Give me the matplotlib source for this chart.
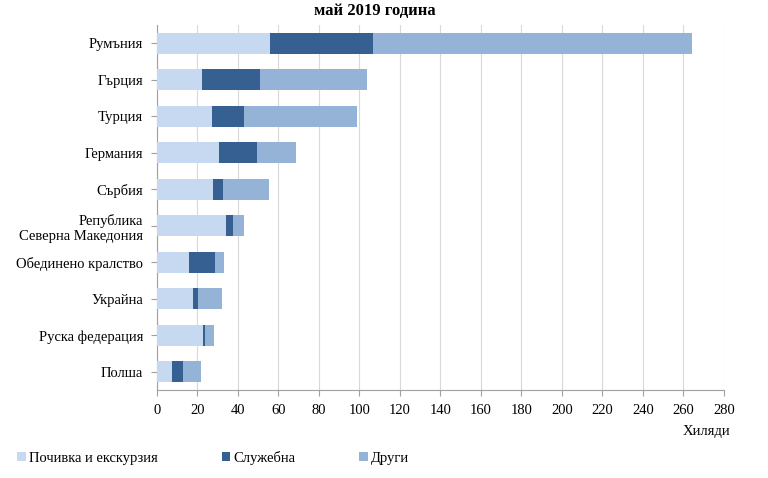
import numpy as np
import matplotlib.pyplot as plt

plt.rcParams['font.family'] = ['Liberation Serif', 'DejaVu Serif']

countries = ['Румъния', 'Гърция', 'Турция', 'Германия', 'Сърбия',
             'Република\nСеверна Македония', 'Обединено кралство', 'Украйна',
             'Руска федерация', 'Полша']
pochivka = [56, 22, 27, 30.8, 27.5, 33.9, 15.8, 17.6, 22.7, 7.4]
sluzhebna = [50.5, 29, 16, 18.4, 5.1, 3.8, 12.8, 2.9, 1.2, 5.3]
drugi = [157.5, 52.5, 55.8, 19.4, 22.7, 5.3, 4.3, 11.4, 4.2, 9.0]

c1 = '#c6d9f1'
c2 = '#376092'
c3 = '#95b3d7'

fig = plt.figure(figsize=(7.68, 4.78), dpi=100)
ax = fig.add_axes([0.2044, 0.184, 0.7383, 0.764])

y = np.arange(len(countries))
p = np.array(pochivka)
s = np.array(sluzhebna)
d = np.array(drugi)
h = 0.58
ax.barh(y, p, height=h, color=c1, label='Почивка и екскурзия', zorder=3)
ax.barh(y, s, left=p, height=h, color=c2, label='Служебна', zorder=3)
ax.barh(y, d, left=p + s, height=h, color=c3, label='Други', zorder=3)

ax.set_ylim(len(countries) - 0.5, -0.5)
ax.set_yticks(y)
ax.set_yticklabels(countries, fontsize=10.5)
ax.set_xlim(0, 280)
ax.set_xticks(np.arange(0, 281, 20))
ax.tick_params(axis='x', labelsize=10.5, direction='out', length=4, color='#a0a0a0', pad=6)
ax.tick_params(axis='y', direction='out', length=4, color='#a0a0a0', pad=6)
ax.grid(axis='x', color='#d9d9d9', linewidth=0.8, zorder=0)
for sp in ['top', 'right']:
    ax.spines[sp].set_visible(False)
ax.spines['left'].set_color('#a0a0a0')
ax.spines['bottom'].set_color('#a0a0a0')

fig.text(0.951, 0.098, 'Хиляди', fontsize=10.5, ha='right', va='center')
fig.text(0.488, 0.977, 'май 2019 година', fontsize=12, fontweight='bold', ha='center', va='center')

fig.legend(loc='lower left', bbox_to_anchor=(0.005, 0.0), ncol=3, frameon=False,
           fontsize=10.5, handlelength=0.6, handleheight=0.6, handletextpad=0.2,
           columnspacing=4.4)

fig.savefig('out.png', dpi=100)
